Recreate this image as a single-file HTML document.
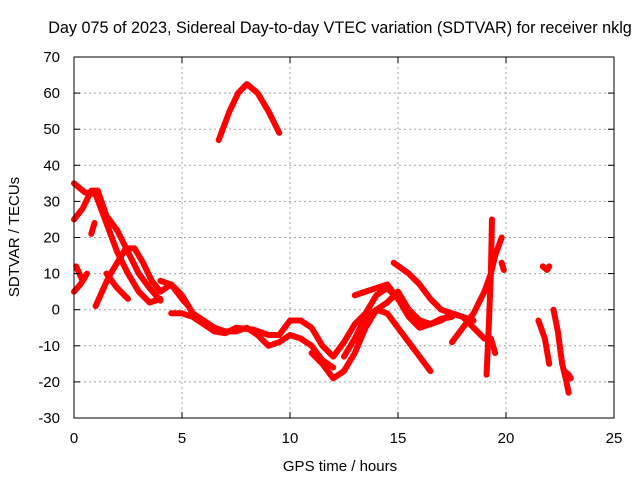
<!DOCTYPE html>
<html><head><meta charset="utf-8"><style>
body{margin:0;background:#fff}
svg{display:block;font-family:"Liberation Sans",sans-serif}
</style></head><body>
<svg id="chart" width="640" height="480" viewBox="0 0 640 480">
<text x="340" y="33" font-size="16.2" text-anchor="middle">Day 075 of 2023, Sidereal Day-to-day VTEC variation (SDTVAR) for receiver nklg</text>
<g id="grid"></g>
<g id="series"></g>
<rect x="74" y="57" width="540" height="361" fill="none" stroke="#000" stroke-width="1"/>
<g id="axes"></g>
<text x="340" y="471" font-size="15" text-anchor="middle">GPS time / hours</text>
<text transform="translate(19,237) rotate(-90)" font-size="15" text-anchor="middle">SDTVAR / TECUs</text>
</svg>
<script>
const xTicks=[0,5,10,15,20,25];
const yTicks=[-30,-20,-10,0,10,20,30,40,50,60,70];
const arcTop=[[6.7,47],[7.2,55],[7.6,60],[8,62.5],[8.5,60],[9,55],[9.5,49]];
const arcA=[[0,35],[0.5,32.5],[1,32],[1.5,24],[2,16],[2.5,10],[3,5],[3.5,2],[4,3]];
const arcB=[[0,25],[0.4,28],[0.8,33],[1.1,33],[1.5,26],[2,22],[2.5,16],[3,10],[3.5,6],[4,2.5]];
const arcC=[[0.1,12],[0.4,8],[0.6,10]];
const arcD=[[0,5],[0.3,7],[0.5,9]];
const arcE=[[0.8,21],[0.95,24]];
const arcF=[[1,1],[1.3,5],[1.6,9],[2,13],[2.4,17],[2.8,17],[3.2,13],[3.6,8],[4,5],[4.5,7],[5,3],[5.3,1]];
const arcG=[[1.5,10],[2,6],[2.5,3]];
const arcH=[[4,8],[4.5,7],[5,4],[5.5,-1],[6,-3],[6.5,-5],[7,-6],[7.5,-6],[8,-5],[8.5,-7],[9,-10],[9.5,-9],[10,-7],[10.5,-8],[11,-10],[11.5,-14],[12,-16]];
const arcI=[[4.5,-1],[5,-1],[5.5,-2],[6,-4],[6.5,-6],[7,-6.5],[7.5,-5],[8.3,-5.5],[9,-7],[9.5,-7],[10,-3],[10.5,-3],[11,-5],[11.5,-10],[12,-13],[12.5,-9],[13,-4],[13.5,-1],[14,4],[14.5,6],[15,3],[15.5,0],[16,-3],[16.5,-4]];
const arcJ=[[11,-12],[11.5,-15],[12,-19],[12.5,-17],[13,-12],[13.5,-5],[14,0],[14.5,-1],[15,-5],[15.5,-9],[16,-13],[16.5,-17]];
const arcK=[[12.5,-13],[13,-8],[13.5,-2],[14,0],[14.5,2],[15,5],[15.5,0],[16,-3],[16.5,-4],[17,-3],[17.5,-1],[18,-2],[18.5,-5],[19,-8]];
const arcL=[[13,4],[13.5,5],[14,6],[14.5,7],[15,3],[15.5,-2],[16,-5],[16.5,-4],[17,-2.5],[17.5,-2]];
const arcM=[[14.8,13],[15.5,10],[16,7],[16.5,3],[17,0],[17.5,-1],[18,-2],[18.5,-3]];
const arcN=[[17.5,-9],[18,-5],[18.5,-1],[19,5],[19.3,10],[19.5,15],[19.8,20]];
const arcO=[[19.1,-18],[19.2,-5],[19.3,10],[19.35,25]];
const arcP=[[19.3,-8],[19.5,-12]];
const arcQ=[[19.8,13],[19.9,11]];
const arcR=[[21.7,12],[21.9,11],[22,12]];
const arcS=[[21.5,-3],[21.8,-8],[22,-15]];
const arcT=[[22.2,0],[22.4,-6],[22.6,-15],[22.8,-20],[22.9,-23]];
const arcU=[[22.7,-17],[22.9,-18],[23,-19]];
const arcs=[arcTop,arcA,arcB,arcC,arcD,arcE,arcF,arcG,arcH,arcI,arcJ,arcK,arcL,arcM,arcN,arcO,arcP,arcQ,arcR,arcS,arcT,arcU];
const X0=74,X1=614,Y0=418,Y1=57;
const sx=v=>X0+(v-0)/(25-0)*(X1-X0);
const sy=v=>Y0-(v+30)/(100)*(Y0-Y1);
const NS="http://www.w3.org/2000/svg";
const grid=document.getElementById('grid'),axes=document.getElementById('axes'),ser=document.getElementById('series');
function mk(tag,attrs,parent){const e=document.createElementNS(NS,tag);for(const k in attrs)e.setAttribute(k,attrs[k]);parent.appendChild(e);return e;}
xTicks.forEach(t=>{
  const x=sx(t);
  if(t>0&&t<25){const g=mk('line',{x1:x,x2:x,y1:Y1,y2:Y0,stroke:'#a0a0a0','stroke-dasharray':'2,3'},grid);
  
  }
  mk('line',{x1:x,x2:x,y1:Y0,y2:Y0-6,stroke:'#000'},axes);
  mk('line',{x1:x,x2:x,y1:Y1,y2:Y1+6,stroke:'#000'},axes);
  const tx=mk('text',{x:x,y:Y0+25,'font-size':15,'text-anchor':'middle'},axes);
  tx.textContent=t;
  
  
});
yTicks.forEach(t=>{
  const y=sy(t);
  if(t>-30&&t<70){const g=mk('line',{x1:X0,x2:X1,y1:y,y2:y,stroke:'#a0a0a0','stroke-dasharray':'2,3'},grid);
  
  }
  mk('line',{x1:X0,x2:X0+6,y1:y,y2:y,stroke:'#000'},axes);
  mk('line',{x1:X1,x2:X1-6,y1:y,y2:y,stroke:'#000'},axes);
  const tx=mk('text',{x:X0-14,y:y+5,'font-size':15,'text-anchor':'end'},axes);
  tx.textContent=t;
  
  
});
arcs.forEach((a,i)=>{
  const p=mk('polyline',{points:a.map(d=>sx(d[0])+','+sy(d[1])).join(' '),fill:'none',stroke:'#ff0000','stroke-width':6,'stroke-linejoin':'round','stroke-linecap':'round'},ser);
  
  
});
</script>
</body></html>
